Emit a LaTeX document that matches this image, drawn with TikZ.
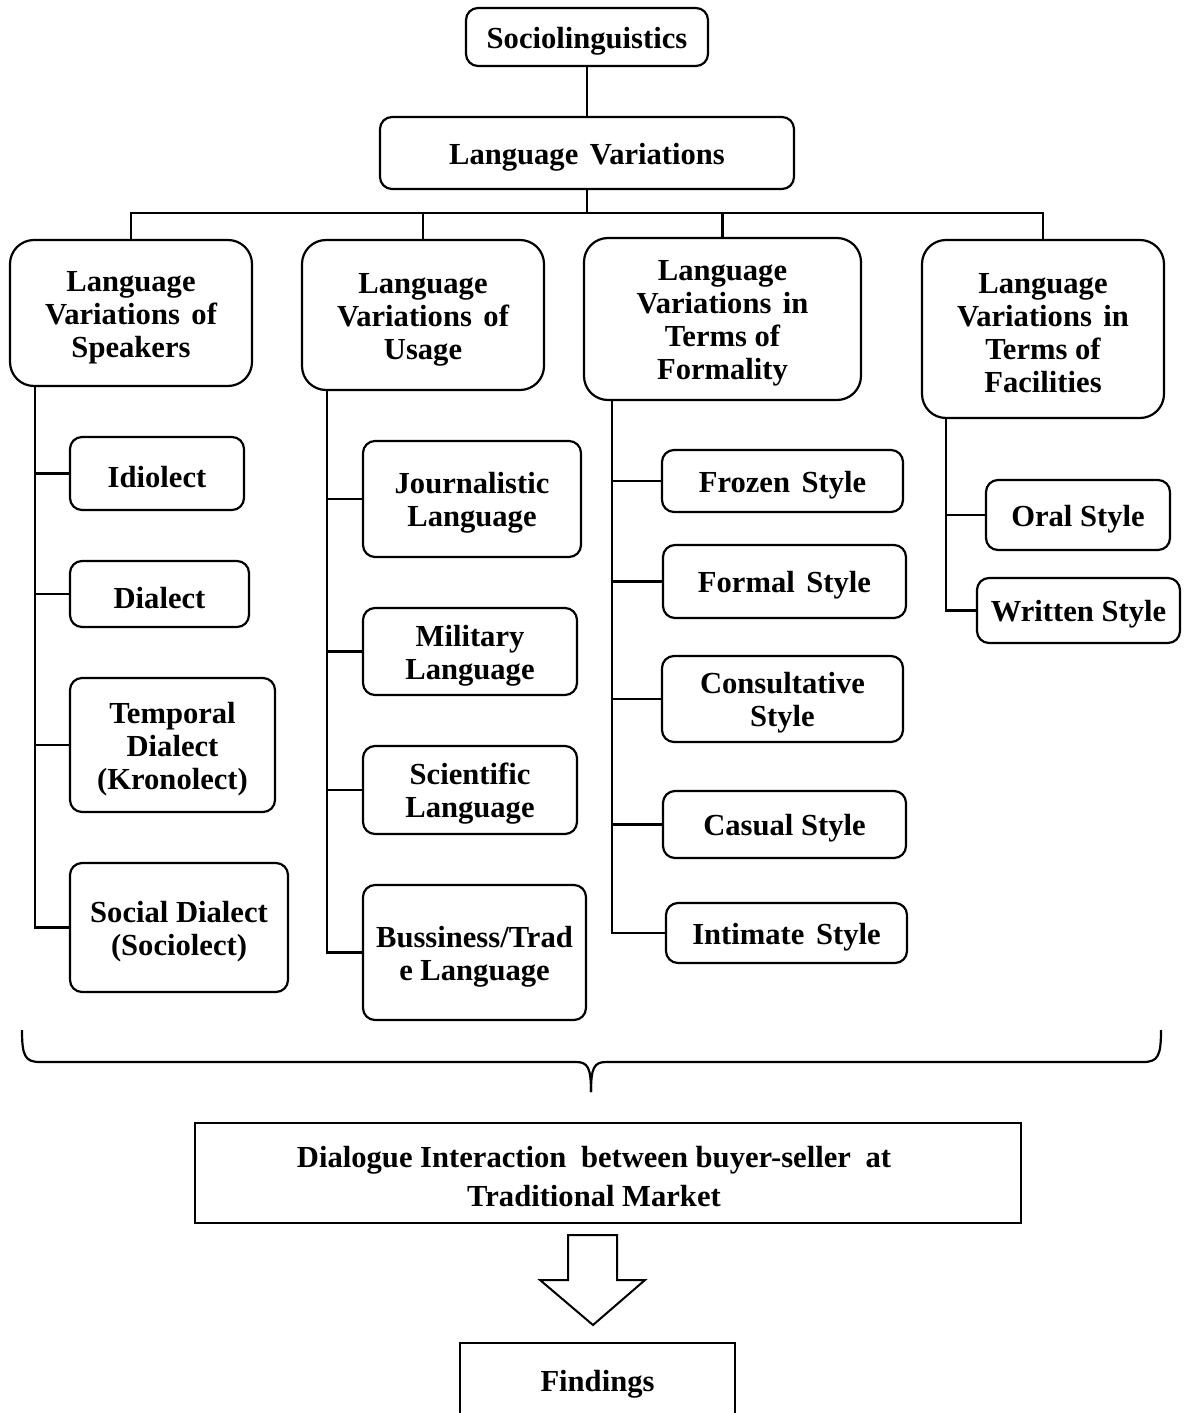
\documentclass[tikz,border=0pt]{standalone}
\usepackage{fontspec}
\setmainfont{Liberation Serif}
\newcommand\wsp{\hspace{5.8pt}}
\newcommand\wwsp{\hspace{7.3pt}}
\newcommand\up{\rule{0pt}{14.5pt}}
\begin{document}
\begin{tikzpicture}[x=0.5pt,y=-0.5pt,
  base/.style={draw,line width=1.1pt,align=center,inner sep=0pt,font=\bfseries\fontsize{15.3}{16.5}\selectfont},
  rbox/.style={base,rounded corners=6pt},
  cbox/.style={base,rounded corners=12pt},
  sbox/.style={base},
  conn/.style={line width=1.1pt}]
\useasboundingbox (0,0) rectangle (1189,1413);
% top
\node[rbox,minimum width=121pt,minimum height=29pt] (soc) at (587,37) {\up Sociolinguistics};
\node[rbox,minimum width=207pt,minimum height=36pt] (lv) at (587,153) {\up Language\wsp Variations};
% categories
\node[cbox,minimum width=121pt,minimum height=73pt] (c1) at (131,313) {\up Language\\Variations\wsp of\\Speakers};
\node[cbox,minimum width=121pt,minimum height=75pt] (c2) at (423,315) {\up Language\\Variations\wsp of\\Usage};
\node[cbox,minimum width=138.5pt,minimum height=81pt] (c3) at (722.5,319) {\up Language\\Variations\wsp in\\Terms of\\Formality};
\node[cbox,minimum width=121pt,minimum height=89pt] (c4) at (1043,329) {\up Language\\Variations\wsp in\\Terms of\\Facilities};
% children col 1
\node[rbox,minimum width=87pt,minimum height=36.5pt] (idio) at (157,473.5) {\up Idiolect};
\node[rbox,minimum width=89.5pt,minimum height=33pt] (dial) at (159.5,594) {\up Dialect};
\node[rbox,minimum width=102.5pt,minimum height=67pt] (temp) at (172.5,745) {\up Temporal\\Dialect\\(Kronolect)};
\node[rbox,minimum width=109pt,minimum height=64.5pt] (soci) at (179,927.5) {\up Social Dialect\\(Sociolect)};
% col 2
\node[rbox,minimum width=109pt,minimum height=58pt] (jour) at (472,499) {\up Journalistic\\Language};
\node[rbox,minimum width=107pt,minimum height=43.5pt] (mil) at (470,651.5) {\up Military\\Language};
\node[rbox,minimum width=107pt,minimum height=44pt] (sci) at (470,790) {\up Scientific\\Language};
\node[rbox,minimum width=111.5pt,minimum height=67.5pt] (bus) at (474.5,952.5) {\up Bussiness/Trad\\e Language};
% col 3
\node[rbox,minimum width=120.5pt,minimum height=31pt] (froz) at (782.5,481) {\up Frozen\wsp Style};
\node[rbox,minimum width=121.5pt,minimum height=36.5pt] (form) at (784.5,581.5) {\up Formal\wsp Style};
\node[rbox,minimum width=120.5pt,minimum height=43pt] (cons) at (782.5,699) {\up Consultative\\Style};
\node[rbox,minimum width=121.5pt,minimum height=33.5pt] (cas) at (784.5,824.5) {\up Casual Style};
\node[rbox,minimum width=120.5pt,minimum height=30pt] (inti) at (786.5,933) {\up Intimate\wsp Style};
% col 4
\node[rbox,minimum width=92pt,minimum height=35pt] (oral) at (1078,515) {\up Oral Style};
\node[rbox,minimum width=101.5pt,minimum height=32.5pt] (writ) at (1078.5,610.5) {\up Written Style};
% bottom
\node[sbox,minimum width=413pt,minimum height=50pt,font=\bfseries\fontsize{15.3}{19.5}\selectfont] (dlg) at (608,1173)
  {\up Dialogue Interaction\wwsp between buyer-seller\wwsp at\hspace*{14pt}\\Traditional Market\hspace*{14pt}};
\node[sbox,minimum width=137.5pt,minimum height=37pt] (find) at (597.5,1380) {\up Findings};
% connectors top
\coordinate (busy) at (0,213);
\draw[conn] (soc) -- (lv);
\draw[conn] (lv.south) -- (lv.south |- busy);
\draw[conn] (c1.north) |- (c4.north |- busy) -- (c4.north);
\draw[conn] (c2.north) -- (c2.north |- busy);
\draw[conn] (c3.north) -- (c3.north |- busy);
% spines
\coordinate (sp1) at (35,0);
\coordinate (sp2) at (327,0);
\coordinate (sp3) at (612,0);
\coordinate (sp4) at (946,0);
\draw[conn] (sp1 |- c1.south) |- (soci.west);
\foreach \n in {idio,dial,temp} \draw[conn] (sp1 |- \n.west) -- (\n.west);
\draw[conn] (sp2 |- c2.south) |- (bus.west);
\foreach \n in {jour,mil,sci} \draw[conn] (sp2 |- \n.west) -- (\n.west);
\draw[conn] (sp3 |- c3.south) |- (inti.west);
\foreach \n in {froz,form,cons,cas} \draw[conn] (sp3 |- \n.west) -- (\n.west);
\draw[conn] (sp4 |- c4.south) |- (writ.west);
\draw[conn] (sp4 |- oral.west) -- (oral.west);
% brace
\coordinate (brL) at (22,1030);
\coordinate (brR) at (1161,1030);
\coordinate (brT) at (591,1092);
\draw[conn] (brL) .. controls (22,1056) and (25,1062) .. (40,1062) -- (576,1062)
  .. controls (588,1062) and (591,1068) .. (brT);
\draw[conn] (brT) .. controls (591,1068) and (594,1062) .. (606,1062) -- (1143,1062)
  .. controls (1158,1062) and (1161,1056) .. (brR);
% block arrow
\draw[line width=1pt] (568,1235) -- (617,1235) -- (617,1280) -- (645,1280) -- (593,1325) -- (540,1280) -- (568,1280) -- cycle;
\end{tikzpicture}
\end{document}
